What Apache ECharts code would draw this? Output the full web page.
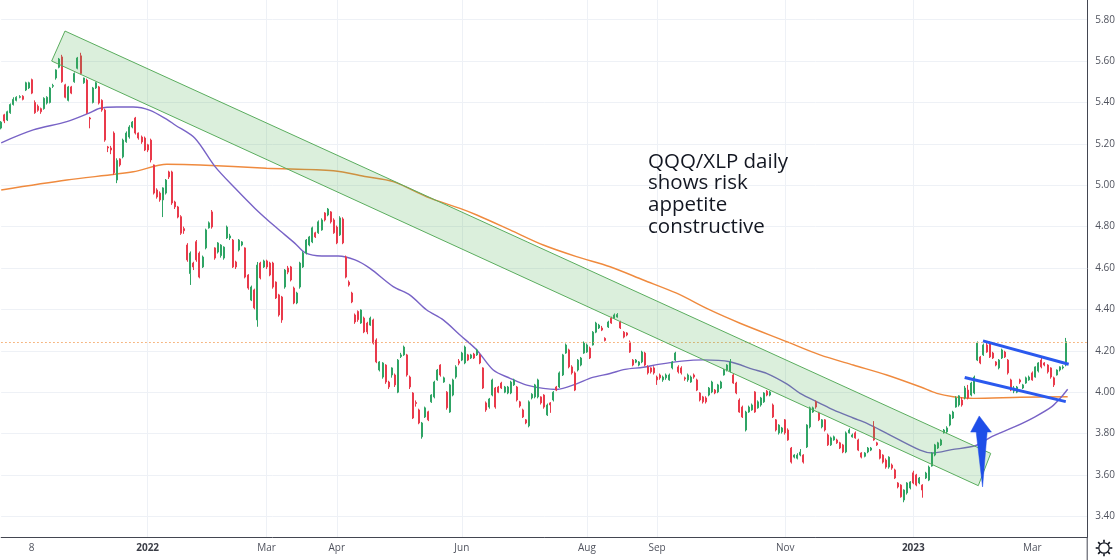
<!DOCTYPE html>
<html><head><meta charset="utf-8">
<script src="https://cdn.jsdelivr.net/npm/echarts@6/dist/echarts.min.js"></script>
<style>html,body{margin:0;padding:0;background:#fff}#c{width:1120px;height:560px}</style>
</head><body><div id="c"></div>
<script>
// ---------- data ----------
const startDate = '2021-10-25';
const slotCount = 357; // 350 sessions + empty future slots
const holidays = ['2021-11-25','2021-12-24','2022-01-17','2022-02-21','2022-04-15','2022-05-30','2022-06-20','2022-07-04','2022-09-05','2022-11-24','2022-12-26','2023-01-02','2023-01-16','2023-02-20'];
const tickDates = ['2021-11-08','2022-01-03','2022-03-01','2022-04-01','2022-06-01','2022-08-01','2022-09-01','2022-11-01','2023-01-03','2023-03-01'];
const tickText = ['8','2022','Mar','Apr','Jun','Aug','Sep','Nov','2023','Mar'];
const yearTicks = ['2022','2023'];

// [open, close, low, high]
const ohlc = [
[5.276,5.305,5.27,5.31],[5.34,5.31,5.30,5.345],[5.315,5.355,5.31,5.36],[5.35,5.39,5.345,5.395],[5.39,5.415,5.385,5.425],
[5.41,5.425,5.405,5.43],[5.425,5.428,5.42,5.435],[5.43,5.415,5.41,5.435],[5.46,5.495,5.455,5.50],[5.47,5.495,5.465,5.50],
[5.51,5.445,5.44,5.515],[5.40,5.35,5.345,5.41],[5.382,5.362,5.355,5.39],[5.37,5.355,5.345,5.375],[5.37,5.42,5.365,5.425],
[5.397,5.425,5.39,5.43],[5.40,5.47,5.395,5.475],[5.478,5.482,5.47,5.49],[5.518,5.557,5.51,5.56],[5.57,5.61,5.565,5.615],
[5.62,5.50,5.495,5.63],[5.485,5.425,5.42,5.49],[5.41,5.475,5.405,5.48],[5.475,5.445,5.44,5.48],[5.50,5.54,5.495,5.545],
[5.565,5.615,5.56,5.62],[5.625,5.54,5.535,5.64],[5.495,5.518,5.49,5.52],[5.508,5.35,5.345,5.515],[5.325,5.32,5.275,5.33],
[5.40,5.47,5.395,5.475],[5.47,5.495,5.465,5.50],[5.475,5.397,5.39,5.48],[5.41,5.363,5.355,5.415],[5.363,5.218,5.21,5.37],
[5.185,5.18,5.16,5.19],[5.18,5.17,5.15,5.19],[5.252,5.06,5.05,5.26],[5.025,5.12,5.01,5.13],[5.127,5.098,5.09,5.13],
[5.137,5.218,5.13,5.225],[5.21,5.252,5.205,5.26],[5.233,5.281,5.225,5.29],[5.281,5.305,5.275,5.31],[5.325,5.252,5.245,5.33],
[5.252,5.228,5.22,5.255],[5.233,5.209,5.20,5.24],[5.228,5.17,5.165,5.235],[5.195,5.17,5.16,5.20],[5.218,5.122,5.11,5.225],
[5.098,4.962,4.955,5.10],[4.977,4.943,4.935,4.985],[4.962,4.929,4.92,4.97],[4.929,4.987,4.846,4.99],[4.962,5.025,4.955,5.03],
[5.064,5.04,5.03,5.07],[5.064,4.914,4.905,5.07],[4.919,4.895,4.885,4.925],[4.895,4.846,4.84,4.90],[4.848,4.768,4.76,4.855],
[4.79,4.78,4.765,4.80],[4.711,4.639,4.63,4.72],[4.573,4.672,4.518,4.68],[4.624,4.605,4.59,4.63],[4.727,4.639,4.63,4.735],
[4.672,4.556,4.55,4.68],[4.605,4.653,4.60,4.66],[4.697,4.784,4.69,4.79],[4.794,4.818,4.79,4.825],[4.871,4.798,4.79,4.88],
[4.697,4.648,4.64,4.70],[4.677,4.721,4.67,4.725],[4.66,4.711,4.65,4.715],[4.648,4.701,4.64,4.705],[4.745,4.798,4.74,4.805],
[4.745,4.755,4.735,4.765],[4.735,4.605,4.60,4.74],[4.629,4.605,4.595,4.635],[4.687,4.735,4.68,4.74],[4.711,4.726,4.705,4.73],
[4.697,4.556,4.55,4.70],[4.566,4.503,4.495,4.57],[4.445,4.508,4.44,4.515],[4.494,4.407,4.40,4.50],[4.349,4.614,4.316,4.629],
[4.624,4.552,4.545,4.63],[4.605,4.634,4.60,4.64],[4.634,4.605,4.595,4.64],[4.624,4.566,4.56,4.63],[4.624,4.508,4.50,4.63],
[4.532,4.455,4.45,4.535],[4.47,4.373,4.365,4.475],[4.46,4.349,4.335,4.465],[4.508,4.59,4.50,4.595],[4.60,4.58,4.57,4.61],
[4.605,4.542,4.535,4.61],[4.503,4.431,4.425,4.51],[4.431,4.479,4.425,4.485],[4.508,4.624,4.50,4.63],[4.605,4.672,4.60,4.68],
[4.672,4.735,4.665,4.74],[4.711,4.75,4.705,4.755],[4.726,4.794,4.72,4.80],[4.77,4.75,4.745,4.775],[4.77,4.823,4.765,4.83],
[4.784,4.832,4.78,4.84],[4.866,4.832,4.825,4.87],[4.856,4.885,4.85,4.89],[4.871,4.823,4.815,4.875],[4.832,4.77,4.765,4.84],
[4.798,4.721,4.715,4.805],[4.76,4.842,4.755,4.85],[4.837,4.721,4.715,4.845],[4.653,4.556,4.55,4.66],[4.532,4.518,4.51,4.54],
[4.479,4.436,4.43,4.485],[4.373,4.339,4.33,4.38],[4.39,4.35,4.34,4.395],[4.334,4.397,4.33,4.40],[4.358,4.291,4.285,4.365],
[4.334,4.291,4.28,4.34],[4.324,4.358,4.32,4.365],[4.349,4.237,4.23,4.355],[4.252,4.146,4.14,4.26],[4.107,4.146,4.10,4.15],
[4.073,4.141,4.065,4.145],[4.131,4.049,4.04,4.135],[4.049,4.025,4.015,4.055],[4.083,4.117,4.07,4.12],[4.083,4.035,4.025,4.09],
[4.0,4.155,3.995,4.16],[4.172,4.18,4.165,4.19],[4.18,4.218,4.175,4.225],[4.18,4.083,4.075,4.185],[4.073,4.025,4.015,4.08],
[3.996,3.875,3.87,4.0],[3.95,3.945,3.93,3.96],[3.914,3.851,3.845,3.92],[3.784,3.851,3.775,3.856],[3.88,3.924,3.875,3.93],
[3.905,3.866,3.86,3.91],[3.953,3.986,3.948,3.99],[3.977,4.049,3.97,4.055],[4.059,4.107,4.055,4.112],[4.131,4.083,4.075,4.135],
[4.049,4.069,4.045,4.075],[4.0,3.924,3.915,4.005],[3.904,4.035,3.90,4.04],[3.986,4.059,3.98,4.065],[4.073,4.122,4.065,4.13],
[4.15,4.14,4.13,4.16],[4.155,4.189,4.15,4.195],[4.141,4.218,4.135,4.225],[4.18,4.155,4.15,4.185],[4.165,4.18,4.16,4.185],
[4.184,4.165,4.16,4.19],[4.18,4.204,4.175,4.21],[4.18,4.141,4.135,4.185],[4.117,4.02,4.015,4.12],[3.948,3.914,3.905,3.955],
[3.928,3.967,3.92,3.972],[3.986,4.059,3.98,4.065],[4.02,3.928,3.92,4.025],[4.025,4.0,3.995,4.03],[4.044,4.02,4.015,4.05],
[4.0,4.025,3.995,4.03],[3.996,4.025,3.99,4.03],[3.996,4.049,3.99,4.055],[4.035,4.059,4.03,4.065],[4.025,3.962,3.955,4.03],
[3.953,3.933,3.925,3.958],[3.914,3.88,3.875,3.92],[3.866,3.851,3.845,3.87],[3.837,3.953,3.83,3.96],[3.972,3.99,3.965,3.995],
[3.977,4.035,3.97,4.04],[3.977,4.059,3.97,4.065],[3.977,3.948,3.94,3.98],[3.986,3.928,3.92,3.99],[3.89,3.938,3.885,3.945],
[3.948,3.938,3.90,3.952],[3.962,4.0,3.955,4.005],[4.025,4.01,4.005,4.03],[4.025,4.093,4.02,4.10],[4.083,4.18,4.078,4.185],
[4.189,4.228,4.185,4.235],[4.204,4.122,4.115,4.21],[4.122,4.093,4.085,4.13],[4.093,4.01,4.005,4.10],[4.107,4.155,4.10,4.16],
[4.131,4.165,4.125,4.17],[4.189,4.237,4.185,4.245],[4.194,4.228,4.19,4.235],[4.213,4.165,4.16,4.22],[4.228,4.29,4.225,4.295],
[4.29,4.334,4.285,4.34],[4.31,4.324,4.305,4.33],[4.31,4.30,4.295,4.32],[4.26,4.25,4.245,4.265],[4.315,4.339,4.31,4.345],
[4.358,4.334,4.33,4.365],[4.358,4.373,4.355,4.38],[4.363,4.375,4.36,4.382],[4.339,4.31,4.305,4.345],[4.29,4.266,4.26,4.295],
[4.286,4.276,4.27,4.29],[4.242,4.194,4.19,4.25],[4.155,4.131,4.125,4.16],[4.145,4.155,4.14,4.16],[4.131,4.146,4.125,4.15],
[4.146,4.194,4.14,4.20],[4.189,4.131,4.125,4.195],[4.122,4.093,4.085,4.13],[4.117,4.098,4.09,4.12],[4.117,4.093,4.085,4.125],
[4.073,4.059,4.035,4.08],[4.083,4.069,4.06,4.09],[4.059,4.073,4.05,4.08],[4.069,4.083,4.06,4.09],[4.059,4.083,4.055,4.09],
[4.117,4.146,4.11,4.15],[4.155,4.189,4.15,4.195],[4.122,4.098,4.09,4.13],[4.117,4.093,4.085,4.125],[4.069,4.064,4.055,4.075],
[4.059,4.083,4.05,4.09],[4.049,4.073,4.045,4.08],[4.083,4.073,4.065,4.09],[4.059,4.01,4.005,4.065],[3.996,3.962,3.955,4.0],
[3.977,3.953,3.945,3.982],[3.972,3.953,3.945,3.98],[3.986,4.02,3.98,4.025],[4.001,4.049,3.995,4.055],[4.01,3.996,3.99,4.015],
[4.001,4.035,3.995,4.04],[4.02,4.049,4.015,4.055],[4.083,4.107,4.08,4.112],[4.107,4.131,4.10,4.135],[4.102,4.146,4.095,4.16],
[4.083,4.044,4.04,4.09],[4.044,3.996,3.99,4.05],[3.962,3.904,3.90,3.97],[3.928,3.88,3.875,3.935],[3.817,3.904,3.81,3.91],
[3.904,3.928,3.90,3.935],[3.914,3.938,3.91,3.945],[4.001,3.904,3.90,4.005],[3.924,3.953,3.92,3.96],[3.938,3.972,3.93,3.977],
[3.953,3.996,3.948,4.0],[4.005,3.986,3.98,4.01],[3.986,4.001,3.98,4.006],[3.938,3.88,3.875,3.945],[3.866,3.817,3.81,3.87],
[3.803,3.841,3.795,3.845],[3.808,3.827,3.80,3.832],[3.866,3.803,3.795,3.87],[3.817,3.769,3.765,3.825],[3.73,3.662,3.655,3.735],
[3.686,3.696,3.68,3.70],[3.681,3.696,3.675,3.705],[3.696,3.71,3.69,3.725],[3.696,3.662,3.655,3.70],[3.735,3.841,3.73,3.845],
[3.832,3.924,3.825,3.93],[3.904,3.924,3.90,3.93],[3.953,3.928,3.92,3.96],[3.9,3.866,3.86,3.905],[3.832,3.866,3.825,3.87],
[3.866,3.817,3.81,3.87],[3.793,3.745,3.74,3.80],[3.745,3.779,3.74,3.785],[3.769,3.784,3.765,3.79],[3.769,3.755,3.75,3.775],
[3.755,3.73,3.725,3.76],[3.745,3.711,3.705,3.75],[3.711,3.803,3.705,3.81],[3.803,3.817,3.80,3.825],[3.784,3.793,3.78,3.80],
[3.803,3.779,3.775,3.81],[3.769,3.72,3.715,3.775],[3.706,3.686,3.68,3.71],[3.69,3.706,3.685,3.71],[3.711,3.73,3.705,3.735],
[3.72,3.73,3.715,3.735],[3.832,3.769,3.765,3.86],[3.755,3.745,3.74,3.76],[3.72,3.681,3.675,3.725],[3.696,3.662,3.655,3.70],
[3.672,3.638,3.63,3.68],[3.638,3.686,3.63,3.69],[3.648,3.633,3.625,3.655],[3.624,3.585,3.58,3.63],[3.561,3.542,3.535,3.565],
[3.551,3.494,3.49,3.555],[3.479,3.527,3.468,3.53],[3.513,3.561,3.505,3.565],[3.537,3.566,3.53,3.57],[3.61,3.561,3.555,3.62],
[3.6,3.551,3.545,3.605],[3.561,3.585,3.555,3.59],[3.551,3.527,3.49,3.555],[3.585,3.609,3.58,3.615],[3.575,3.638,3.57,3.645],
[3.643,3.706,3.64,3.71],[3.696,3.745,3.69,3.75],[3.73,3.755,3.725,3.76],[3.745,3.769,3.74,3.775],[3.803,3.817,3.80,3.822],
[3.808,3.827,3.80,3.835],[3.841,3.89,3.835,3.895],[3.875,3.904,3.87,3.91],[3.928,3.972,3.925,3.98],[3.938,3.982,3.93,3.985],
[3.962,3.938,3.93,3.975],[3.972,4.02,3.965,4.03],[4.01,3.972,3.965,4.035],[3.986,4.044,3.98,4.05],[3.996,4.073,3.99,4.08],
[4.155,4.237,4.15,4.245],[4.17,4.141,4.135,4.175],[4.18,4.228,4.175,4.235],[4.228,4.194,4.19,4.24],[4.237,4.17,4.165,4.245],
[4.189,4.165,4.16,4.195],[4.146,4.131,4.125,4.15],[4.117,4.155,4.11,4.16],[4.165,4.204,4.16,4.21],[4.194,4.17,4.165,4.20],
[4.155,4.093,4.085,4.16],[4.059,4.01,4.005,4.065],[4.005,4.02,3.995,4.03],[4.0,4.025,3.995,4.03],[4.059,4.049,4.04,4.065],
[4.02,4.035,4.015,4.04],[4.044,4.069,4.04,4.075],[4.059,4.073,4.055,4.08],[4.093,4.059,4.055,4.10],[4.073,4.122,4.07,4.125],
[4.102,4.141,4.095,4.145],[4.155,4.122,4.115,4.165],[4.141,4.131,4.125,4.145],[4.131,4.098,4.09,4.135],[4.117,4.073,4.065,4.12],
[4.069,4.035,4.025,4.075],[4.083,4.107,4.08,4.11],[4.107,4.122,4.10,4.125],[4.117,4.122,4.11,4.13],[4.131,4.244,4.125,4.262]
];

// moving averages: [session index, value]
const ma50 = [[0,5.205],[10.5,5.267],[21.5,5.307],[28.6,5.347],[32.4,5.372],[37.9,5.378],[43.3,5.378],[48.8,5.362],[54.3,5.318],[57.0,5.291],[63.5,5.227],[70.1,5.090],[76.7,4.985],[83.2,4.888],[89.8,4.800],[96.3,4.719],[99.6,4.674],[105.1,4.658],[110.5,4.658],[116.0,4.639],[120.9,4.598],[128.5,4.510],[134.0,4.469],[139.5,4.397],[144.9,4.349],[150.4,4.276],[155.9,4.204],[161.3,4.107],[166.8,4.067],[172.3,4.034],[182.1,4.013],[188.6,4.040],[193.6,4.070],[199.6,4.090],[204.5,4.110],[210.5,4.120],[215.4,4.134],[223.1,4.150],[230.2,4.156],[238.9,4.147],[246.5,4.110],[250.9,4.091],[257.5,4.040],[261.9,3.994],[268.4,3.946],[272.8,3.914],[279.3,3.875],[283.8,3.849],[290.3,3.801],[301.2,3.720],[305.3,3.706],[311.6,3.722],[319.5,3.742],[324.7,3.785],[332.3,3.833],[338.9,3.881],[344.4,3.930],[347.6,3.978],[349.6,4.014]];
const ma200 = [[0,4.977],[21.5,5.025],[43.3,5.065],[54.3,5.101],[65.2,5.098],[87.0,5.082],[108.9,5.070],[119.8,5.041],[128.5,5.017],[139.5,4.944],[150.4,4.888],[155.9,4.856],[166.8,4.784],[177.7,4.711],[188.6,4.655],[199.6,4.606],[210.5,4.542],[221.4,4.478],[232.3,4.397],[242.2,4.333],[257.5,4.244],[268.4,4.180],[279.3,4.131],[290.3,4.083],[301.2,4.026],[306.7,3.994],[312.1,3.978],[318.7,3.970],[334.0,3.975],[349.6,3.978]];

// drawings, in data coordinates [session index, value]
const channel = [[20.91,5.745],[324.37,3.704],[320.30,3.548],[16.55,5.600]];
const upperBlue = [[321.84,4.248],[349.93,4.135]];
const lowerBlue = [[315.84,4.071],[348.98,3.954]];
const arrow = [[320.6,3.885],[324.6,3.807],[323.2,3.807],[321.7,3.542],[319.6,3.807],[317.8,3.807]];
const note = 'QQQ/XLP daily\nshows risk\nappetite\nconstructive';

// ---------- build ----------
function tradingDays(start, n) {
  const out = []; const d = new Date(start + 'T00:00:00Z');
  while (out.length < n) {
    const wd = d.getUTCDay(); const s = d.toISOString().slice(0, 10);
    if (wd !== 0 && wd !== 6 && holidays.indexOf(s) < 0) out.push(s);
    d.setUTCDate(d.getUTCDate() + 1);
  }
  return out;
}
const dates = tradingDays(startDate, slotCount);
const tickIdx = tickDates.map(d => dates.indexOf(d));
const lastClose = ohlc[ohlc.length - 1][1];

const AX = '#434651';
const FONT = '"Open Sans", "DejaVu Sans", sans-serif';

const gear = [{type:'circle', shape:{cx:1104, cy:548, r:5.2}, style:{fill:'none', stroke:'#131722', lineWidth:1.3}}];
for (let k = 0; k < 8; k++) {
  const a = k * Math.PI / 4;
  gear.push({type:'line', shape:{x1:1104+5.5*Math.cos(a), y1:548+5.5*Math.sin(a), x2:1104+8.3*Math.cos(a), y2:548+8.3*Math.sin(a)}, style:{stroke:'#131722', lineWidth:1.6}});
}

function polyItem(points, style) {
  return function (params, api) {
    return { type: 'polygon', shape: { points: points.map(p => api.coord(p)) }, style: style };
  };
}

const chart = echarts.init(document.getElementById('c'), null, {renderer: 'canvas'});
chart.setOption({
  animation: false,
  backgroundColor: '#ffffff',
  grid: { left: 1.2, right: 32.8, top: 0, bottom: 23, containLabel: false },
  xAxis: [{
    type: 'category', data: dates, boundaryGap: false,
    axisLine: { show: true, lineStyle: { color: AX, width: 1 } },
    axisTick: { show: false },
    axisLabel: {
      interval: (i) => tickIdx.indexOf(i) >= 0,
      margin: 6, fontSize: 10, fontFamily: FONT, color: '#50535e',
      formatter: (v) => { const k = tickDates.indexOf(v); if (k < 0) return ''; const t = tickText[k]; return yearTicks.indexOf(t) >= 0 ? '{b|' + t + '}' : t; },
      rich: { b: { fontWeight: 'bold', fontSize: 10, fontFamily: FONT, color: '#3a3d46' } }
    },
    splitLine: { show: true, showMinLine: false, showMaxLine: false, interval: (i) => tickIdx.indexOf(i) >= 0, lineStyle: { color: '#eef1f6', width: 1 } }
  }, {
    type: 'value', min: 0, max: slotCount - 1, show: false,
    axisLine: { show: false }, splitLine: { show: false }, axisLabel: { show: false }, axisTick: { show: false }
  }],
  yAxis: [{
    type: 'value', position: 'right', min: 3.3, max: 5.895, scale: true,
    splitNumber: 13, minInterval: 0.2, maxInterval: 0.2,
    axisLine: { show: true, onZero: false, lineStyle: { color: AX, width: 1 } },
    axisTick: { show: false },
    axisLabel: { margin: 8, fontSize: 10, fontFamily: FONT, color: '#50535e', showMinLabel: false, showMaxLabel: false, formatter: (v) => v.toFixed(2) },
    splitLine: { show: true, showMinLine: false, showMaxLine: false, lineStyle: { color: '#eef1f6', width: 1 } }
  }],
  series: [
    {
      type: 'line', name: 'SMA200', xAxisIndex: 1, data: ma200, smooth: 0.3, showSymbol: false, z: 2,
      lineStyle: { color: '#ef8a3e', width: 1.4 }, silent: true
    },
    {
      type: 'line', name: 'SMA50', xAxisIndex: 1, data: ma50, smooth: 0.3, showSymbol: false, z: 2,
      lineStyle: { color: '#7863c6', width: 1.4 }, silent: true
    },
    {
      type: 'candlestick', name: 'QQQ/XLP', data: ohlc, barWidth: 1.5, z: 3,
      itemStyle: { color: '#2fa465', color0: '#e93a4b', borderColor: '#2fa465', borderColor0: '#e93a4b', borderWidth: 1 },
      markLine: {
        silent: true, symbol: 'none', label: { show: false },
        lineStyle: { type: [1.5, 2.5], color: '#f4a460', width: 1 },
        data: [{ yAxis: lastClose }]
      }
    },
    {
      type: 'custom', name: 'channel', xAxisIndex: 1, data: [channel[0]], z: 6, silent: true,
      renderItem: polyItem(channel, { fill: 'rgba(76,175,80,0.2)', stroke: '#5aad5e', lineWidth: 1 })
    },
    {
      type: 'line', name: 'upperBlue', xAxisIndex: 1, data: upperBlue, showSymbol: false, z: 7, silent: true,
      lineStyle: { color: '#2a59ee', width: 3 }
    },
    {
      type: 'line', name: 'lowerBlue', xAxisIndex: 1, data: lowerBlue, showSymbol: false, z: 7, silent: true,
      lineStyle: { color: '#2a59ee', width: 3 }
    },
    {
      type: 'custom', name: 'arrow', xAxisIndex: 1, data: [arrow[0]], z: 8, silent: true,
      renderItem: polyItem(arrow, { fill: '#1e4ee8', stroke: '#1e4ee8', lineWidth: 0.5 })
    }
  ],
  graphic: [
    { type: 'text', left: 648, top: 151, z: 20, style: { text: note, fontSize: 20.5, fontFamily: FONT, fill: '#131722', lineHeight: 21.7 } },
    { type: 'line', shape: { x1: 1087.2, y1: 537, x2: 1087.2, y2: 560 }, style: { stroke: AX, lineWidth: 1 } },
    { type: 'group', children: gear }
  ]
});
</script></body></html>
